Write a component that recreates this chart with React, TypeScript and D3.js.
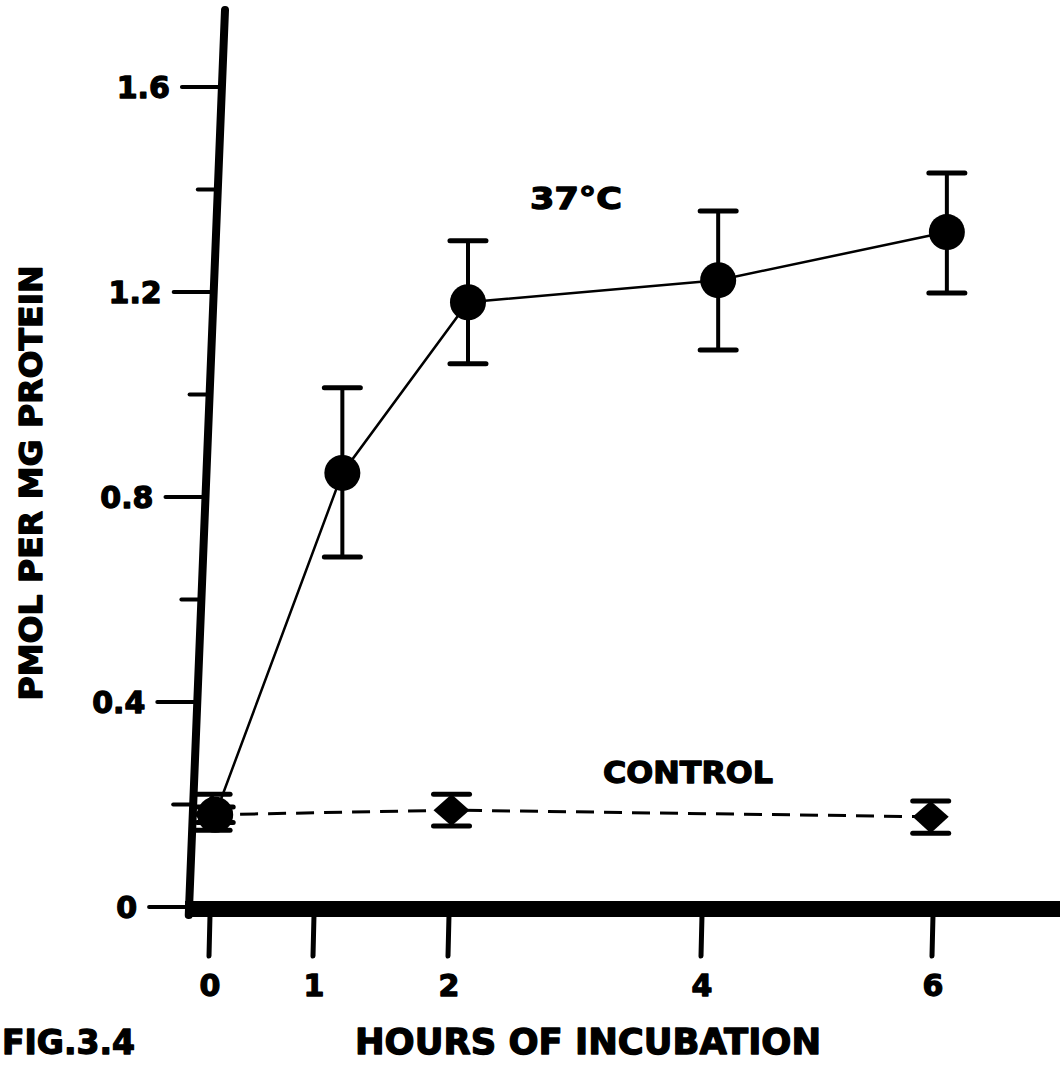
import { useEffect, useRef } from 'react'
import * as d3 from 'd3'

// axis ticks
const X_TICKS = [0, 1, 2, 4, 6]
const Y_TICKS = [0, 0.2, 0.4, 0.6, 0.8, 1.0, 1.2, 1.4, 1.6]
const Y_TICK_LABELS = ['0', '', '0.4', '', '0.8', '', '1.2', '', '1.6']

// 37°C series: hours as plotted, mean, error bar ends
const WARM_HOURS = [0.05, 1.21, 2.15, 4.14, 6.12]
const WARM_MEAN = [0.18, 0.847, 1.18, 1.223, 1.317]
const WARM_LOW = [0.165, 0.683, 1.06, 1.087, 1.198]
const WARM_HIGH = [0.195, 1.013, 1.3, 1.358, 1.432]

// control series
const CTRL_HOURS = [0.02, 2.02, 5.98]
const CTRL_MEAN = [0.18, 0.189, 0.176]
const CTRL_LOW = [0.15, 0.158, 0.144]
const CTRL_HIGH = [0.22, 0.22, 0.207]

const FONT = "'DejaVu Sans', 'Liberation Sans', sans-serif"

export default function App() {
  const svgRef = useRef<SVGSVGElement>(null)
  const WIDTH = 1060
  const HEIGHT = 1065

  useEffect(() => {
    if (!svgRef.current) return
    const svg = d3.select(svgRef.current)
    svg.selectAll('*').remove()

    // hand-drawn figure: hour ticks are not evenly spaced, so map them piecewise
    const x = d3.scaleLinear().domain(X_TICKS).range([210, 314, 449, 702, 933])
    const y = d3.scaleLinear().domain([0, 1.6]).range([907, 87])
    // the y axis leans a little to the left going down
    const lean = d3.scaleLinear().domain([10, 909]).range([225, 189])

    // heavy print-style lettering
    const label = (sel: d3.Selection<SVGTextElement, unknown, null, undefined>, size: number) =>
      sel.attr('font-family', FONT).attr('font-weight', 'bold').attr('font-size', size)
        .attr('fill', '#000').attr('stroke', '#000').attr('stroke-width', 1.3)
        .attr('stroke-linejoin', 'round')

    svg.append('rect').attr('width', WIDTH).attr('height', HEIGHT).attr('fill', '#fff')

    // Y axis
    svg.append('line')
      .attr('x1', lean(10)).attr('y1', 10).attr('x2', lean(915)).attr('y2', 915)
      .attr('stroke', '#000').attr('stroke-width', 8).attr('stroke-linecap', 'round')

    Y_TICKS.forEach((t, i) => {
      const ty = y(t)
      const ax = lean(ty)
      const major = Y_TICK_LABELS[i] !== ''
      svg.append('line')
        .attr('x1', ax - (major ? 40 : 20)).attr('y1', ty).attr('x2', ax).attr('y2', ty)
        .attr('stroke', '#000').attr('stroke-width', 4).attr('stroke-linecap', 'round')
      if (major) {
        svg.append('text')
          .attr('x', ax - 52).attr('y', ty).attr('dy', '0.36em')
          .attr('text-anchor', 'end')
          .call(label, 30)
          .text(Y_TICK_LABELS[i])
      }
    })

    // X axis (thick bar)
    svg.append('line')
      .attr('x1', lean(909) - 4).attr('y1', 909).attr('x2', WIDTH).attr('y2', 909)
      .attr('stroke', '#000').attr('stroke-width', 16)

    X_TICKS.forEach(t => {
      svg.append('line')
        .attr('x1', x(t)).attr('y1', 915).attr('x2', x(t) - 1).attr('y2', 956)
        .attr('stroke', '#000').attr('stroke-width', 5).attr('stroke-linecap', 'round')
      svg.append('text')
        .attr('x', x(t)).attr('y', 985).attr('dy', '0.36em')
        .attr('text-anchor', 'middle')
        .call(label, 30)
        .text(String(t))
    })

    // control dashed line
    const ctrlPts: [number, number][] = CTRL_HOURS.map((h, i) => [x(h), y(CTRL_MEAN[i])])
    svg.append('path')
      .attr('d', d3.line()(ctrlPts))
      .attr('fill', 'none').attr('stroke', '#000')
      .attr('stroke-width', 3).attr('stroke-dasharray', '18 10')

    // control markers: error caps + diamond
    CTRL_HOURS.forEach((h, i) => {
      const cx = x(h)
      const cy = y(CTRL_MEAN[i])
      const top = y(CTRL_HIGH[i])
      const bot = y(CTRL_LOW[i])
      ;[top, bot].forEach(yy => {
        svg.append('line')
          .attr('x1', cx - 18).attr('y1', yy).attr('x2', cx + 18).attr('y2', yy)
          .attr('stroke', '#000').attr('stroke-width', 5).attr('stroke-linecap', 'round')
      })
      svg.append('path')
        .attr('d', `M${cx},${top} L${cx + 18},${cy} L${cx},${bot} L${cx - 18},${cy} Z`)
        .attr('fill', '#000')
    })

    // 37°C solid line
    const warmPts: [number, number][] = WARM_HOURS.map((h, i) => [x(h), y(WARM_MEAN[i])])
    svg.append('path')
      .attr('d', d3.line()(warmPts))
      .attr('fill', 'none').attr('stroke', '#000').attr('stroke-width', 2.5)

    // 37°C error bars and dots
    WARM_HOURS.forEach((h, i) => {
      const cx = x(h)
      const top = y(WARM_HIGH[i])
      const bot = y(WARM_LOW[i])
      svg.append('line')
        .attr('x1', cx).attr('y1', top).attr('x2', cx).attr('y2', bot)
        .attr('stroke', '#000').attr('stroke-width', 4)
      ;[top, bot].forEach(yy => {
        svg.append('line')
          .attr('x1', cx - 18).attr('y1', yy).attr('x2', cx + 18).attr('y2', yy)
          .attr('stroke', '#000').attr('stroke-width', 5).attr('stroke-linecap', 'round')
      })
      svg.append('circle')
        .attr('cx', cx).attr('cy', y(WARM_MEAN[i])).attr('r', 18)
        .attr('fill', '#000')
    })

    // series labels
    svg.append('text')
      .attr('x', 530).attr('y', 209)
      .call(label, 30)
      .attr('textLength', 92).attr('lengthAdjust', 'spacingAndGlyphs')
      .text('37°C')
    svg.append('text')
      .attr('x', 603).attr('y', 783)
      .call(label, 30)
      .attr('textLength', 170).attr('lengthAdjust', 'spacingAndGlyphs')
      .text('CONTROL')

    // axis titles
    svg.append('text')
      .attr('x', 355).attr('y', 1054)
      .call(label, 35)
      .attr('textLength', 466).attr('lengthAdjust', 'spacingAndGlyphs')
      .text('HOURS OF INCUBATION')
    svg.append('text')
      .attr('x', 2).attr('y', 1054)
      .call(label, 33)
      .text('FIG.3.4')
    svg.append('text')
      .attr('transform', 'translate(42,483) rotate(-90)')
      .attr('text-anchor', 'middle')
      .call(label, 32)
      .attr('textLength', 435).attr('lengthAdjust', 'spacingAndGlyphs')
      .text('PMOL PER MG PROTEIN')
  }, [])

  return (
    <svg
      ref={svgRef}
      width={WIDTH}
      height={HEIGHT}
      style={{ position: 'absolute', left: 0, top: 0 }}
    />
  )
}
